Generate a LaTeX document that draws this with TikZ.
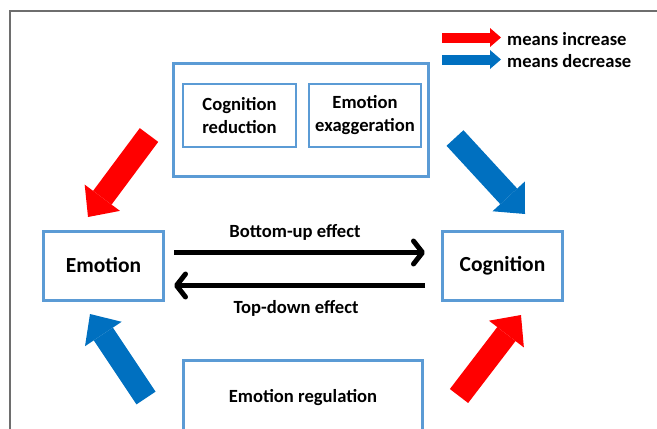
\documentclass[tikz,border=0pt]{standalone}
\usepackage{fontspec}
\setmainfont{Carlito}
\usetikzlibrary{positioning}
\usetikzlibrary{arrows.meta}
\definecolor{boxblue}{HTML}{5B9BD5}
\definecolor{arrblue}{HTML}{0070C0}
\definecolor{arrred}{HTML}{FF0000}
\definecolor{framegray}{HTML}{6E6E6E}

\begin{document}
\begin{tikzpicture}[x=1pt, y=-1pt,
    every node/.style={font=\bfseries\fontsize{18.6}{23}\selectfont, align=center, inner sep=0pt},
    bigbox/.style={draw=boxblue, line width=3pt},
    smallbox/.style={draw=boxblue, line width=2pt},
    fatarrow/.style={line width=23pt, -{Triangle[length=24pt,width=44pt,line width=0pt]}},
    legendarrow/.style={line width=10pt, -{Triangle[length=11pt,width=19pt,line width=0pt]}},
    effect/.style={line width=5pt, -{Straight Barb[length=9pt,width=23pt,round]}}]
            \useasboundingbox (0,0) rectangle (657,429);
            \clip (0,0) rectangle (657,429);
            \draw[line width=1.2pt, framegray] (10,440) -- (10,11) -- (670,11);

            % Cajas
            \node[bigbox, minimum width=120pt, minimum height=69pt, font=\bfseries\fontsize{21.5}{26}\selectfont] (emotion) at (103.5,265.5) {Emotion};
            \node[bigbox, minimum width=120pt, minimum height=69pt, font=\bfseries\fontsize{21.5}{26}\selectfont] (cognition) at (502.5,265.5) {Cognition};
            \node[bigbox, minimum width=255pt, minimum height=113pt] (biases) at (301,120) {};
            \node[smallbox, minimum width=113pt, minimum height=63pt] (cogreduction) at (239.5,115.5) {Cognition\\reduction};
            \node[smallbox, minimum width=112pt, minimum height=63pt] (emoexagg) at (365,115.5) {Emotion\\exaggeration};
            \node[bigbox, minimum width=239pt, minimum height=74pt] (regulation) at (303,397.5) {Emotion regulation};

            % Leyenda
            \coordinate (inctail) at (442,37.5);
            \coordinate (inctip) at (501,37.5);
            \coordinate (dectail) at (442,59.5);
            \coordinate (dectip) at (501,59.5);
            \draw[legendarrow, arrred] (inctail) -- (inctip);
            \draw[legendarrow, arrblue] (dectail) -- (dectip);
            \node[right=6pt of inctip, yshift=-1.5pt] (inclabel) {means increase};
            \node[right=6pt of dectip, yshift=-1.5pt] (declabel) {means decrease};

            % Flechas gruesas
            \coordinate (tlTail) at (149,135);
            \coordinate (tlTip) at (88,217);
            \coordinate (trTail) at (455,138);
            \coordinate (trTip) at (525,214);
            \coordinate (blTail) at (146,398);
            \coordinate (blTip) at (90,314);
            \coordinate (brTail) at (459,396);
            \coordinate (brTip) at (521,315);
            \draw[fatarrow, arrred] (tlTail) -- (tlTip);
            \draw[fatarrow, arrblue] (trTail) -- (trTip);
            \draw[fatarrow, arrblue] (blTail) -- (blTip);
            \draw[fatarrow, arrred] (brTail) -- (brTip);

            % Efectos
            \draw[effect] ([shift={(9,-13)}]emotion.east) -- ([shift={(-16,-13)}]cognition.west);
            \draw[effect] ([shift={(-16,20)}]cognition.west) -- ([shift={(9,20)}]emotion.east);
            \node (bottomup) at (295,232) {Bottom-up effect};
            \node (topdown) at (296,308) {Top-down effect};
          \end{tikzpicture}
\end{document}
